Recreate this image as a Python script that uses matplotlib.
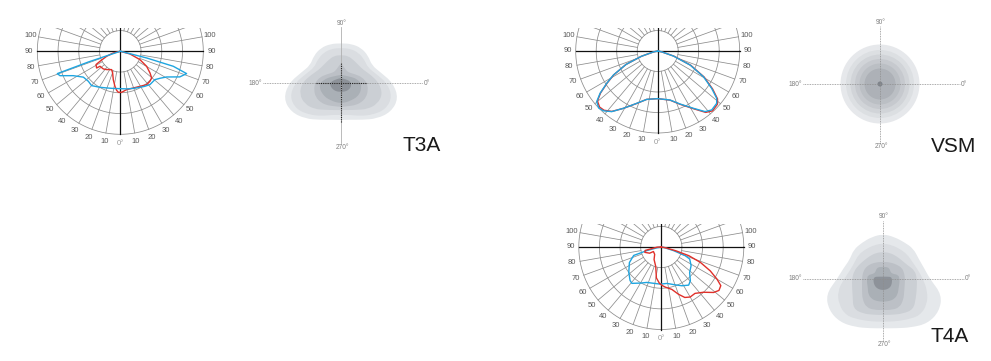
import numpy as np
import matplotlib
matplotlib.use('Agg')
import matplotlib.pyplot as plt
from matplotlib.path import Path
from matplotlib.patches import PathPatch, Circle

W, H = 991, 361

# photometric curves: angle from nadir in degrees (right side positive), relative intensity
T3A_BLUE_ANG = [-90, -72, -71.5, -70.5, -68, -62.6, -55, -46.8, -39.9, -30, -20.4, -10, 0, 10, 20,
                28.6, 35, 41.7, 50.7, 56, 61, 66.7, 71.4, 74.2, 75.8, 78, 90]
T3A_BLUE_VAL = [0, 0.03, 0.4, 0.805, 0.784, 0.638, 0.543, 0.528, 0.539, 0.50, 0.471, 0.455, 0.45, 0.46,
                0.475, 0.494, 0.515, 0.537, 0.539, 0.58, 0.638, 0.78, 0.843, 0.664, 0.327, 0.02, 0]
T3A_RED_ANG = [-90, -76.6, -70, -63.8, -61.3, -54.8, -53.6, -43.9, -36.7, -25.3, -19.5, -13.9, -8.7, -5.4,
               -2.8, 1.9, 9.4, 19.5, 29.3, 38.3, 44.7, 49.6, 53.9, 60.3, 67, 74.6, 90]
T3A_RED_VAL = [0, 0.087, 0.175, 0.273, 0.334, 0.349, 0.304, 0.295, 0.275, 0.244, 0.277, 0.352, 0.427,
               0.472, 0.494, 0.494, 0.468, 0.469, 0.484, 0.512, 0.508, 0.496, 0.443, 0.365, 0.257, 0.121, 0]

VSM_ANG = [-90, -78, -72, -67, -61.5, -57.6, -53.7, -50.3, -46, -42.2, -37.2, -30.9, -21.9, -12.8, 0,
           14.1, 22.8, 31.9, 38, 42.5, 48.4, 51.3, 55.3, 60.7, 66.6, 72.3, 78, 90]
VSM_BLUE_VAL = [0, 0.05, 0.21, 0.42, 0.615, 0.736, 0.872, 0.967, 1.0, 0.985, 0.928, 0.815, 0.688, 0.605,
                0.581, 0.616, 0.701, 0.823, 0.938, 0.975, 0.962, 0.922, 0.80, 0.639, 0.43, 0.20, 0.05, 0]
VSM_RED_VAL = [0, 0.05, 0.21, 0.42, 0.61, 0.73, 0.865, 0.955, 0.985, 0.975, 0.925, 0.815, 0.69, 0.605,
               0.581, 0.618, 0.705, 0.83, 0.95, 0.99, 0.975, 0.935, 0.815, 0.65, 0.44, 0.21, 0.05, 0]

T4A_BLUE_ANG = [-90, -80, -76, -73, -64, -52, -43, -39, -30, -22, -12, -1.5, 9, 20, 28, 35.7, 40.7,
                48, 58, 67, 70, 73.5, 80, 90]
T4A_BLUE_VAL = [0, 0.05, 0.18, 0.35, 0.43, 0.5, 0.555, 0.567, 0.505, 0.463, 0.45, 0.45, 0.447, 0.488,
                0.532, 0.569, 0.54, 0.462, 0.426, 0.374, 0.31, 0.156, 0.03, 0]
T4A_RED_ANG = [-90, -88, -78, -72, -62, -60, -42, -30, -16, -9, -3, 2, 6, 14, 20, 25, 30, 36, 43, 49,
               53, 57, 60, 64, 68.5, 72.5, 75.5, 80, 90]
T4A_RED_VAL = [0, 0.05, 0.2, 0.21, 0.16, 0.11, 0.12, 0.175, 0.245, 0.38, 0.44, 0.47, 0.49, 0.53, 0.61,
               0.675, 0.70, 0.695, 0.75, 0.84, 0.875, 0.86, 0.78, 0.66, 0.51, 0.35, 0.18, 0.05, 0]

ANGLE_LABELS = [0, 10, 20, 30, 40, 50, 60, 70, 80, 90, 100]

# isolux outlines: radius (px) every 15 deg, 0 deg = right, counter-clockwise
ISO_DIRS = np.arange(0, 360, 15)
T3A_ISO = [
    [52, 41, 35.5, 38.5, 40.5, 40.5, 39.7, 40.5, 40.5, 38.5, 35.5, 41, 52, 59.5, 57.8, 50.5, 42.5, 38, 37,
     38, 42.5, 50.5, 57.8, 59.5],
    [46, 36, 31, 33, 35, 35.5, 35, 35.5, 35, 33, 31, 36, 46, 53, 52, 45, 38, 33, 32, 33, 38, 45, 52, 53],
    [38, 31, 26, 25, 26, 28, 28, 28, 26, 25, 26, 31, 39, 43, 42, 37, 31, 28, 27, 28, 31, 37, 42, 43],
    [26, 22, 17, 14, 13, 15, 20, 15, 13, 14, 17, 22, 26, 28, 29, 28, 26, 24, 24, 24, 26, 28, 29, 28],
    [20, 16, 12, 9.5, 8.5, 8, 8, 8, 8.5, 9.5, 12, 16, 21, 22, 21.5, 21, 20, 20, 20, 20, 20, 21, 21.5, 21],
    [10, 8.5, 6.5, 5.5, 5, 4.8, 4.7, 4.8, 5, 5.5, 6.5, 8.5, 11, 11, 10.5, 10, 9.5, 9, 8.7, 9, 9.5, 10,
     10.5, 10.5],
]
T4A_ISO = [
    [47, 42.5, 41, 43, 42.5, 43.5, 45, 43.5, 42, 41.5, 38.5, 41, 46, 59, 62.5, 61, 55.5, 51, 49.3, 51, 56,
     63, 65, 61],
    [40, 36, 34, 34.5, 34.5, 35, 35.7, 35, 34.5, 34.5, 33, 34, 39, 47, 51, 52, 47, 44, 42.7, 44, 47, 52,
     51, 46],
    [34, 33, 28, 26.5, 26.5, 27, 27, 27, 26.5, 26.5, 28, 30, 31, 32, 35, 42, 40, 37, 36, 37, 40, 43, 38, 35],
    [22, 22, 22, 20, 18.5, 17.5, 17, 17.5, 18.5, 20, 21, 21, 21, 21.7, 24.2, 29, 33, 32, 31, 32, 33, 29,
     24.5, 22.5],
    [16.5, 16, 10.5, 10.5, 12.5, 12.5, 12, 12.5, 12.5, 10.5, 10.5, 15.5, 16, 16.5, 17.5, 21, 23, 23, 22.7,
     23, 23, 21, 18, 17],
    [9, 8.2, 4.6, 3.3, 2.7, 2.4, 2.3, 2.4, 2.7, 3.3, 4.6, 8.5, 9.5, 9.8, 10.3, 10.8, 11, 11, 11, 11, 11,
     10.8, 10, 9.3],
]
VSM_ISO = [39.5, 34, 29.5, 25, 20.5, 15.5, 2.5]

ISO_COLORS = ['#e5e8eb', '#dadde1', '#cbcfd4', '#bcc0c6', '#aab0b6', '#8d9299']
VSM_COLORS = ['#e6e8eb', '#dcdfe2', '#d1d4d8', '#c6c9ce', '#bbbfc4', '#adb1b7', '#7f848b']

BLUE = '#1ea5e0'
RED = '#e0302a'
GRID = '#8c8c8c'
LABEL = '#585858'

fig = plt.figure(figsize=(W / 100, H / 100), dpi=100)


def px_axes(cx, cy, scale, xlim, ylim):
    x0, x1 = xlim
    y0, y1 = ylim
    left = cx + x0 * scale
    bottom = cy - y0 * scale
    ax = fig.add_axes([left / W, 1 - bottom / H, (x1 - x0) * scale / W, (y1 - y0) * scale / H])
    ax.set_xlim(x0, x1)
    ax.set_ylim(y0, y1)
    ax.axis('off')
    return ax


def polar_diagram(cx, cy, R, curves):
    ax = px_axes(cx, cy, R, (-1.45, 1.45), (-1.3, 0.277))
    t = np.linspace(0, 2 * np.pi, 361)
    for rr in (0.25, 0.5, 0.75, 1.0):
        ax.plot(rr * np.cos(t), rr * np.sin(t), color=GRID, lw=0.55)
    for a in range(0, 360, 10):
        if a % 90 == 0:
            continue
        g = np.deg2rad(a)
        ax.plot([0.25 * np.sin(g), np.sin(g)], [-0.25 * np.cos(g), -np.cos(g)], color=GRID, lw=0.55)
    ax.plot([-1, 1], [0, 0], color='#111111', lw=0.9)
    ax.plot([0, 0], [-1, 0.3], color='#111111', lw=0.9)
    for ang, val, col in curves:
        g = np.deg2rad(ang)
        v = np.asarray(val)
        ax.plot(v * np.sin(g), -v * np.cos(g), color=col, lw=1.0, solid_joinstyle='round')
    for a in ANGLE_LABELS:
        g = np.deg2rad(a)
        if a == 0:
            ax.text(0, -1.11, '0°', ha='center', va='center', fontsize=5.5, color='#999999',
                    family='Liberation Sans')
            continue
        for side in (-1, 1):
            ax.text(side * 1.1 * np.sin(g), -1.1 * np.cos(g), str(a), ha='center', va='center',
                    fontsize=5.5, color=LABEL, family='Liberation Sans')


def blob(radii):
    a = np.deg2rad(ISO_DIRS)
    r = np.asarray(radii, dtype=float)
    p = np.column_stack([r * np.cos(a), r * np.sin(a)])
    mids = (p + np.roll(p, -1, axis=0)) / 2
    verts = [mids[-1]]
    codes = [Path.MOVETO]
    for i in range(len(p)):
        verts += [p[i], mids[i]]
        codes += [Path.CURVE3, Path.CURVE3]
    return Path(verts, codes)


def isolux(cx, cy, name, title_xy, hspan, vspan, levels=None, circles=None, solid_v=False, dark=None):
    ax = px_axes(cx, cy, 1, (-100, 100), (-75, 70))
    if levels is not None:
        for radii, col in zip(levels, ISO_COLORS):
            ax.add_patch(PathPatch(blob(radii), facecolor=col, edgecolor='none'))
    if circles is not None:
        for rad, col in zip(circles, VSM_COLORS):
            ax.add_patch(Circle((0, 0), rad, facecolor=col, edgecolor='none'))
    ax.plot(hspan, [0, 0], color='#8e8e8e', lw=0.6, ls=(0, (1, 1)))
    if solid_v:
        ax.plot([0, 0], vspan, color='#b0b0b0', lw=0.6)
    else:
        ax.plot([0, 0], vspan, color='#8e8e8e', lw=0.6, ls=(0, (1, 1)))
    if dark is not None:
        ax.plot(dark[0], [0, 0], color='#222222', lw=0.8, ls=(0, (1, 1)))
        ax.plot([0, 0], dark[1], color='#222222', lw=0.8, ls=(0, (1, 1)))
    small = dict(fontsize=4.8, color='#808080', family='Liberation Sans', va='center')
    ax.text(1, vspan[1] + 4, '90°', ha='center', **small)
    ax.text(1, vspan[0] - 4, '270°', ha='center', **small)
    ax.text(hspan[0] - 1, 0, '180°', ha='right', **small)
    ax.text(hspan[1] + 1, 0, '0°', ha='left', **small)
    ax.text(title_xy[0], title_xy[1], name, ha='center', va='center', fontsize=15,
            fontweight='normal', family='Liberation Sans', color='#1a1a1a')


polar_diagram(120.3, 51.3, 83, [(T3A_RED_ANG, T3A_RED_VAL, RED), (T3A_BLUE_ANG, T3A_BLUE_VAL, BLUE)])
polar_diagram(657.7, 51.0, 82, [(VSM_ANG, VSM_RED_VAL, RED), (VSM_ANG, VSM_BLUE_VAL, BLUE)])
polar_diagram(661.3, 247.0, 82.5, [(T4A_BLUE_ANG, T4A_BLUE_VAL, BLUE), (T4A_RED_ANG, T4A_RED_VAL, RED)])

isolux(341, 83, 'T3A', (81, -62), (-78, 82), (-60, 56), levels=T3A_ISO, solid_v=True,
       dark=((-25, 26), (-39, 20)))
isolux(880, 84, 'VSM', (74, -62), (-77, 80), (-59, 58), circles=VSM_ISO)
isolux(883, 279, 'T4A', (67, -57), (-80, 81), (-61, 58), levels=T4A_ISO)

fig.savefig('out.png', dpi=100)
